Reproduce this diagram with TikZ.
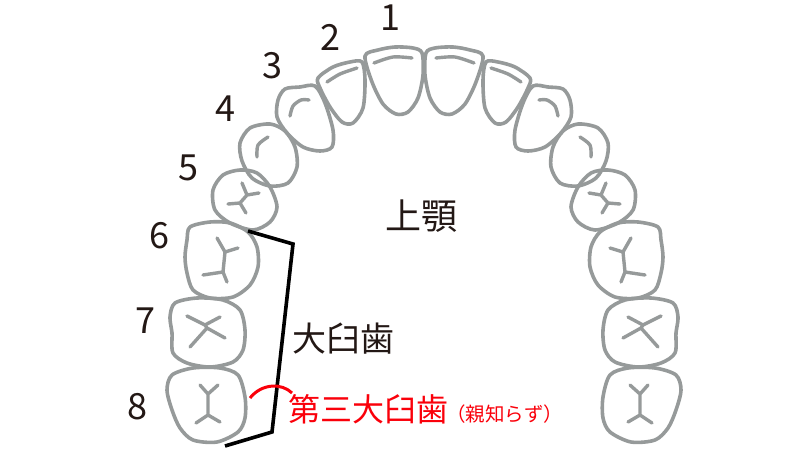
\documentclass[tikz,border=0pt]{standalone}
\usepackage{fontspec}
\setmainfont{Noto Sans CJK JP}
\usetikzlibrary{positioning}
\definecolor{toothgray}{RGB}{150,154,154}
\definecolor{inkbrown}{RGB}{35,24,21}
\definecolor{alertred}{RGB}{250,0,10}
\tikzset{
	tooth/.style={draw=toothgray, line width=3.6pt, line join=round},
	groove/.style={draw=toothgray, line width=3.4pt, line cap=round, line join=round},
	num/.style={text=inkbrown, font=\fontsize{36}{36}\selectfont, inner sep=0pt},
	jptext/.style={text=inkbrown, inner sep=0pt}
}
\begin{document}
\begin{tikzpicture}[x=1pt,y=-1pt]
	\useasboundingbox (0,0) rectangle (800,450);
	% half arch, drawn twice (left, then mirrored right)
	\foreach \side/\sx in {1/0,-1/848}{
	\begin{scope}[xshift=\sx pt, xscale=\side]
		% 1
		\draw[tooth] plot[smooth cycle] coordinates {(365,56) (378,50) (395,47) (413,48) (422,53) (423,75) (418,98) (408,112) (396,114) (383,104) (372,82)};
		\draw[groove] plot[smooth] coordinates {(374,63) (393,57) (412,58)};
		% 2
		\draw[tooth] plot[smooth cycle] coordinates {(318,78) (333,67) (350,62) (362,62) (365,80) (363,108) (353,123) (342,122) (330,107) (320,88)};
		\draw[groove] plot[smooth] coordinates {(327,82) (340,74) (357,68)};
		% 3
		\draw[tooth] plot[smooth cycle] coordinates {(285,89) (300,87) (315,86) (325,103) (333,130) (332,147) (320,151) (303,147) (287,133) (277,117) (278,100)};
		\draw[groove] plot[smooth] coordinates {(290,116) (293,106) (301,100) (309,100)};
		% 4
		\draw[tooth] plot[smooth cycle] coordinates {(250,128) (270,124) (285,131) (295,147) (297,167) (288,183) (270,186) (252,178) (242,161) (240,143)};
		\draw[groove] plot[smooth] coordinates {(257,157) (258,145) (268,137)};
		% 5
		\draw[tooth] plot[smooth cycle] coordinates {(223,175) (240,170) (257,173) (270,187) (277,207) (270,222) (253,230) (230,223) (215,210) (213,190)};
		\draw[groove] (242,183) -- (247,195) -- (259,193) (247,195) -- (240,203) (228,204) -- (240,203) -- (246,213);
		% 6
		\draw[tooth] plot[smooth cycle] coordinates {(187,240) (190,227) (210,222) (230,223) (248,232) (257,247) (258,267) (250,285) (233,297) (210,298) (193,290) (187,273) (185,257)};
		\draw[groove] (217,238) -- (225,252) -- (238,248) (225,252) -- (223,272) (203,275) -- (223,272) -- (227,282);
		% 7
		\draw[tooth] plot[smooth cycle] coordinates {(175,303) (197,298) (223,300) (240,310) (245,330) (243,350) (233,362) (210,367) (187,363) (173,353) (172,333) (170,317)};
		\draw[groove] (187,316) -- (205,325) -- (220,317) (205,325) -- (207,328) (190,347) -- (207,328) -- (225,338);
		% 8
		\draw[tooth] plot[smooth cycle] coordinates {(172,375) (193,368) (220,368) (238,375) (245,397) (245,418) (238,432) (217,442) (193,440) (180,428) (172,410) (167,390)};
		\draw[groove] (200,385) -- (208,394) -- (218,385) (208,394) -- (208,415) (196,423) -- (208,415) -- (220,422);
	\end{scope}
	}
	% numbers
	\node (n1) at (390,18)  [num] {1};
	\node (n2) at (330,37)  [num] {2};
	\node (n3) at (272,66)  [num] {3};
	\node (n4) at (225,109) [num] {4};
	\node (n5) at (188,168) [num] {5};
	\node (n6) at (159,236) [num] {6};
	\node (n7) at (145,321) [num] {7};
	\node (n8) at (137,407) [num] {8};
	% labels
	\node (jaw) at (421,216) [jptext, font=\fontsize{36}{36}\selectfont] {上顎};
	\node (molar) at (343,339) [jptext, font=\fontsize{34}{34}\selectfont] {大臼歯};
	\node (wisdom) at (368,409) [jptext, text=alertred, font=\fontsize{32}{32}\selectfont] {第三大臼歯};
	\node (wisdomnote) [right=-2pt of wisdom.base east, anchor=base west, jptext, text=alertred, font=\fontsize{19.5}{19.5}\selectfont] {（親知らず）};
	% bracket and mark
	\coordinate (bk1) at (248,231);
	\coordinate (bk2) at (293,244);
	\coordinate (bk3) at (272,432);
	\coordinate (bk4) at (225,446);
	\draw[line width=3.6pt] (bk1) -- (bk2) -- (bk3) -- (bk4);
	\coordinate (wa) at (250,398);
	\coordinate (wb) at (292,393);
	\draw[alertred, line width=3pt] (wa) .. controls (262,383) and (282,383) .. (wb);
\end{tikzpicture}
\end{document}
